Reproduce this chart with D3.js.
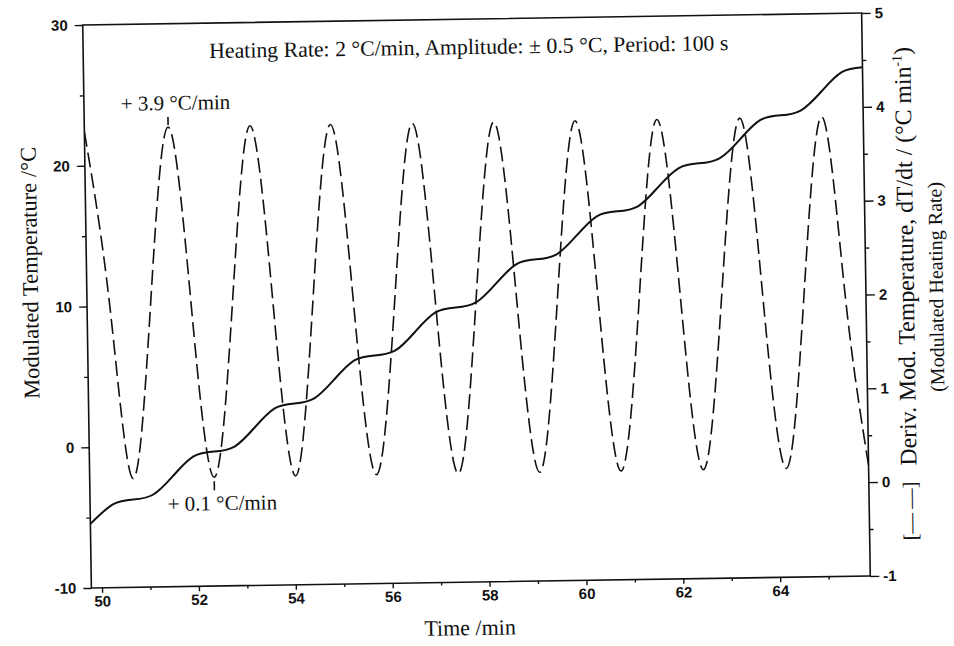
<!DOCTYPE html>
<html>
<head>
<meta charset="utf-8">
<script src="https://cdn.jsdelivr.net/npm/d3@7"></script>
<style>
body { margin: 0; background: #fff; }
.axis text { font-family: "Liberation Sans", Arial, sans-serif; font-weight: bold; font-size: 15px; fill: #111; }
.axis line { stroke: #111; stroke-width: 1.4; }
.axis path { display: none; }
.serif { font-family: "Liberation Serif", "Times New Roman", serif; fill: #111; }
</style>
</head>
<body>
<svg id="chart" width="954" height="646"></svg>
<script>
// tick labels
var timeTicks = [50, 52, 54, 56, 58, 60, 62, 64];
var timeMinor = [51, 53, 55, 57, 59, 61, 63, 65];
var tempTicks = [-10, 0, 10, 20, 30];
var tempMinor = [-5, 5, 15, 25];
var rateTicks = [-1, 0, 1, 2, 3, 4, 5];
var rateMinor = [-0.5, 0.5, 1.5, 2.5, 3.5, 4.5];

// dashed curve: modulated heating rate (right axis), read at peaks, troughs and mid points
var rateTime = [49.78, 50.25, 50.67, 51.09, 51.51, 51.93, 52.35, 52.78, 53.20, 53.62, 54.03, 54.44,
  54.86, 55.28, 55.70, 56.13, 56.55, 56.97, 57.39, 57.81, 58.23, 58.65, 59.07, 59.49, 59.91, 60.33,
  60.75, 61.18, 61.60, 62.03, 62.45, 62.88, 63.31, 63.73, 64.16, 64.58, 65.01, 65.43, 65.86];
var rateValue = [3.86, 2.0, 0.16, 2.0, 3.9, 2.0, 0.16, 2.0, 3.9, 2.0, 0.16, 2.0,
  3.9, 2.0, 0.16, 2.0, 3.9, 2.0, 0.16, 2.0, 3.9, 2.0, 0.16, 2.0, 3.9, 2.0,
  0.16, 2.0, 3.9, 2.0, 0.16, 2.0, 3.9, 2.0, 0.16, 2.0, 3.9, 2.0, 0.18];

// solid curve: modulated temperature (left axis)
var tempTime = rateTime;
var tempValue = [-5.45, -4.09, -3.76, -3.43, -2.10, -0.77, -0.44, -0.11, 1.22, 2.56, 2.89, 3.22,
  4.55, 5.88, 6.21, 6.54, 7.87, 9.20, 9.53, 9.86, 11.19, 12.53, 12.86, 13.19, 14.52, 15.85,
  16.18, 16.51, 17.84, 19.17, 19.50, 19.83, 21.16, 22.50, 22.83, 23.16, 24.49, 25.82, 26.15];

// annotations on the dashed curve
var annoText = ["+ 3.9 \u00B0C/min", "+ 0.1 \u00B0C/min"];
var annoTime = [51.51, 52.35];
var annoRate = [3.9, 0.16];

var svg = d3.select("#chart"),
    margin = {top: 19, right: 88, bottom: 64, left: 87},
    width = +svg.attr("width") - margin.left - margin.right,
    height = +svg.attr("height") - margin.top - margin.bottom;

// the scanned figure sits slightly crooked on the page
var page = svg.append("g").attr("transform", "rotate(-0.88,476.5,300.5)");
var g = page.append("g").attr("transform", "translate(" + margin.left + "," + margin.top + ")");

var x = d3.scaleLinear().domain([49.78, 65.86]).range([0, width]);
var yTemp = d3.scaleLinear().domain([-10, 30]).range([height, 0]);
var yRate = d3.scaleLinear().domain([-1, 5]).range([height, 0]);

g.append("clipPath").attr("id", "plot")
  .append("rect").attr("width", width).attr("height", height);

var plain = function(d) { return String(d); };

// bottom axis
g.append("g").attr("class", "axis")
    .attr("transform", "translate(0," + height + ")")
    .call(d3.axisBottom(x).tickValues(timeTicks).tickSize(5).tickPadding(3).tickFormat(plain));
g.append("g").attr("class", "axis")
    .attr("transform", "translate(0," + height + ")")
    .call(d3.axisBottom(x).tickValues(timeMinor).tickSize(3).tickFormat(""));

// left axis
g.append("g").attr("class", "axis")
    .call(d3.axisLeft(yTemp).tickValues(tempTicks).tickSize(8).tickPadding(7).tickFormat(plain));
g.append("g").attr("class", "axis")
    .call(d3.axisLeft(yTemp).tickValues(tempMinor).tickSize(4).tickFormat(""));

// right axis
g.append("g").attr("class", "axis")
    .attr("transform", "translate(" + width + ",0)")
    .call(d3.axisRight(yRate).tickValues(rateTicks).tickSize(9).tickPadding(4).tickFormat(plain));
g.append("g").attr("class", "axis")
    .attr("transform", "translate(" + width + ",0)")
    .call(d3.axisRight(yRate).tickValues(rateMinor).tickSize(4).tickFormat(""));

// frame
g.append("rect")
    .attr("width", width).attr("height", height)
    .attr("fill", "none").attr("stroke", "#111").attr("stroke-width", 1.6);

var tempLine = d3.line()
    .x(function(d) { return x(d[0]); })
    .y(function(d) { return yTemp(d[1]); })
    .curve(d3.curveNatural);

var rateLine = d3.line()
    .x(function(d) { return x(d[0]); })
    .y(function(d) { return yRate(d[1]); })
    .curve(d3.curveNatural);

var curves = g.append("g").attr("clip-path", "url(#plot)");

curves.append("path")
    .datum(d3.zip(rateTime, rateValue))
    .attr("d", rateLine)
    .attr("fill", "none")
    .attr("stroke", "#111")
    .attr("stroke-width", 1.6)
    .attr("stroke-dasharray", "15,6");

curves.append("path")
    .datum(d3.zip(tempTime, tempValue))
    .attr("d", tempLine)
    .attr("fill", "none")
    .attr("stroke", "#111")
    .attr("stroke-width", 2);

// annotation ticks and labels
var anno = g.append("g").selectAll("g")
    .data(d3.range(annoText.length))
    .enter().append("g");

anno.append("line")
    .attr("x1", function(i) { return x(annoTime[i]); })
    .attr("x2", function(i) { return x(annoTime[i]); })
    .attr("y1", function(i) { return yRate(annoRate[i]) + (i === 0 ? -10 : 4); })
    .attr("y2", function(i) { return yRate(annoRate[i]) + (i === 0 ? -2 : 13); })
    .attr("stroke", "#111").attr("stroke-width", 1.6);

anno.append("text")
    .attr("class", "serif")
    .attr("font-size", 21)
    .attr("x", function(i) { return x(annoTime[i]) - 47; })
    .attr("y", function(i) { return yRate(annoRate[i]) + (i === 0 ? -17 : 33); })
    .text(function(i) { return annoText[i]; });

// heading inside the plot
page.append("text")
    .attr("class", "serif")
    .attr("font-size", 21.8)
    .attr("x", 213).attr("y", 54)
    .text("Heating Rate: 2 \u00B0C/min, Amplitude: \u00B1 0.5 \u00B0C, Period: 100 s");

// axis titles
page.append("text")
    .attr("class", "serif")
    .attr("font-size", 22)
    .attr("text-anchor", "middle")
    .attr("x", 465).attr("y", 635)
    .text("Time /min");

page.append("text")
    .attr("class", "serif")
    .attr("font-size", 22.5)
    .attr("text-anchor", "middle")
    .attr("transform", "translate(38,266) rotate(-90)")
    .text("Modulated Temperature /\u00B0C");

var right1 = page.append("text")
    .attr("class", "serif")
    .attr("font-size", 20.5)
    .attr("transform", "translate(914,547) rotate(-90)");
right1.append("tspan").text("[\u2014\u2009\u2014]");
right1.append("tspan").attr("dx", 16).attr("font-size", 23.8).text("Deriv. Mod. Temperature, dT/dt / (\u00B0C min");
right1.append("tspan").attr("font-size", 14).attr("dy", -9).text("-1");
right1.append("tspan").attr("dy", 9).attr("font-size", 23.8).text(")");

page.append("text")
    .attr("class", "serif")
    .attr("font-size", 20)
    .attr("text-anchor", "middle")
    .attr("transform", "translate(943,294) rotate(-90)")
    .text("(Modulated Heating Rate)");
</script>
</body>
</html>
